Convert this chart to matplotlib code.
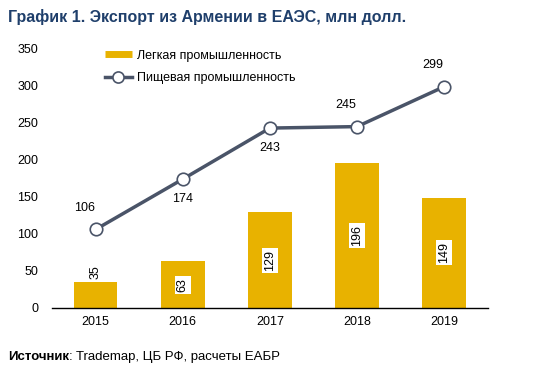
import matplotlib.pyplot as plt
from matplotlib.lines import Line2D
import numpy as np

plt.rcParams['font.family'] = ['Liberation Sans', 'DejaVu Sans']

years = ["2015", "2016", "2017", "2018", "2019"]
light_ind = [35, 63, 129, 196, 149]
food_ind = [106, 174, 243, 245, 299]
# where the line labels go: above (+) or below (-) the point
food_lbl_side = [1, -1, -1, 1, 1]

bar_color = "#E8B200"
line_color = "#4A5468"

fig = plt.figure(figsize=(5.5, 3.76), dpi=100)
ax = fig.add_axes([0.0945, 0.181, 0.7925, 0.689])
x = np.arange(len(years))

ax.bar(x, light_ind, width=0.5, color=bar_color, zorder=2)
ax.plot(x, food_ind, color=line_color, lw=2.5, marker="o", ms=9, mfc="white",
        mec=line_color, mew=1.2, zorder=3)

for i, v in enumerate(light_ind):
    if v < 50:
        ax.text(x[i], v + 4, str(v), rotation=90, ha="center", va="bottom", fontsize=9)
    else:
        ax.text(x[i], v / 2, str(v), rotation=90, ha="center", va="center", fontsize=9,
                bbox=dict(facecolor="white", edgecolor="none", pad=1.5))

for i, v in enumerate(food_ind):
    if food_lbl_side[i] > 0:
        ax.annotate(str(v), (x[i], v), xytext=(-8, 11), textcoords="offset points",
                    ha="center", va="bottom", fontsize=9)
    else:
        ax.annotate(str(v), (x[i], v), xytext=(0, -10), textcoords="offset points",
                    ha="center", va="top", fontsize=9)

ax.set_xlim(-0.5, 4.5)
ax.set_ylim(0, 350)
ax.set_yticks(range(0, 351, 50))
ax.set_xticks(x)
ax.set_xticklabels(years)
ax.tick_params(length=0, labelsize=9, pad=10)
ax.tick_params(axis="x", pad=6)
for s in ["top", "right", "left"]:
    ax.spines[s].set_visible(False)
ax.spines["bottom"].set_linewidth(1)

handles = [
    Line2D([], [], color=bar_color, lw=5, solid_capstyle="butt"),
    Line2D([], [], color=line_color, lw=2.5, marker="o", ms=8, mfc="white",
           mec=line_color, mew=1.2),
]
labels = ["Легкая промышленность", "Пищевая промышленность"]
ax.legend(handles, labels, loc="upper left", bbox_to_anchor=(0.095, 1.04), frameon=False,
          fontsize=9, handlelength=2.2, handletextpad=0.4, labelspacing=0.85)

fig.text(0.015, 0.955, "График 1. Экспорт из Армении в ЕАЭС, млн долл.", fontsize=11.5,
         fontweight="bold", color="#1F3F6B", va="center")
t = fig.text(0.015, 0.05, "Источник", fontsize=9.5, fontweight="bold", va="center")
fig.canvas.draw()
bb = t.get_window_extent()
fig.text(bb.x1 / fig.bbox.width, 0.05, ": Trademap, ЦБ РФ, расчеты ЕАБР", fontsize=9.5, va="center")

fig.savefig("out.png", dpi=100)
